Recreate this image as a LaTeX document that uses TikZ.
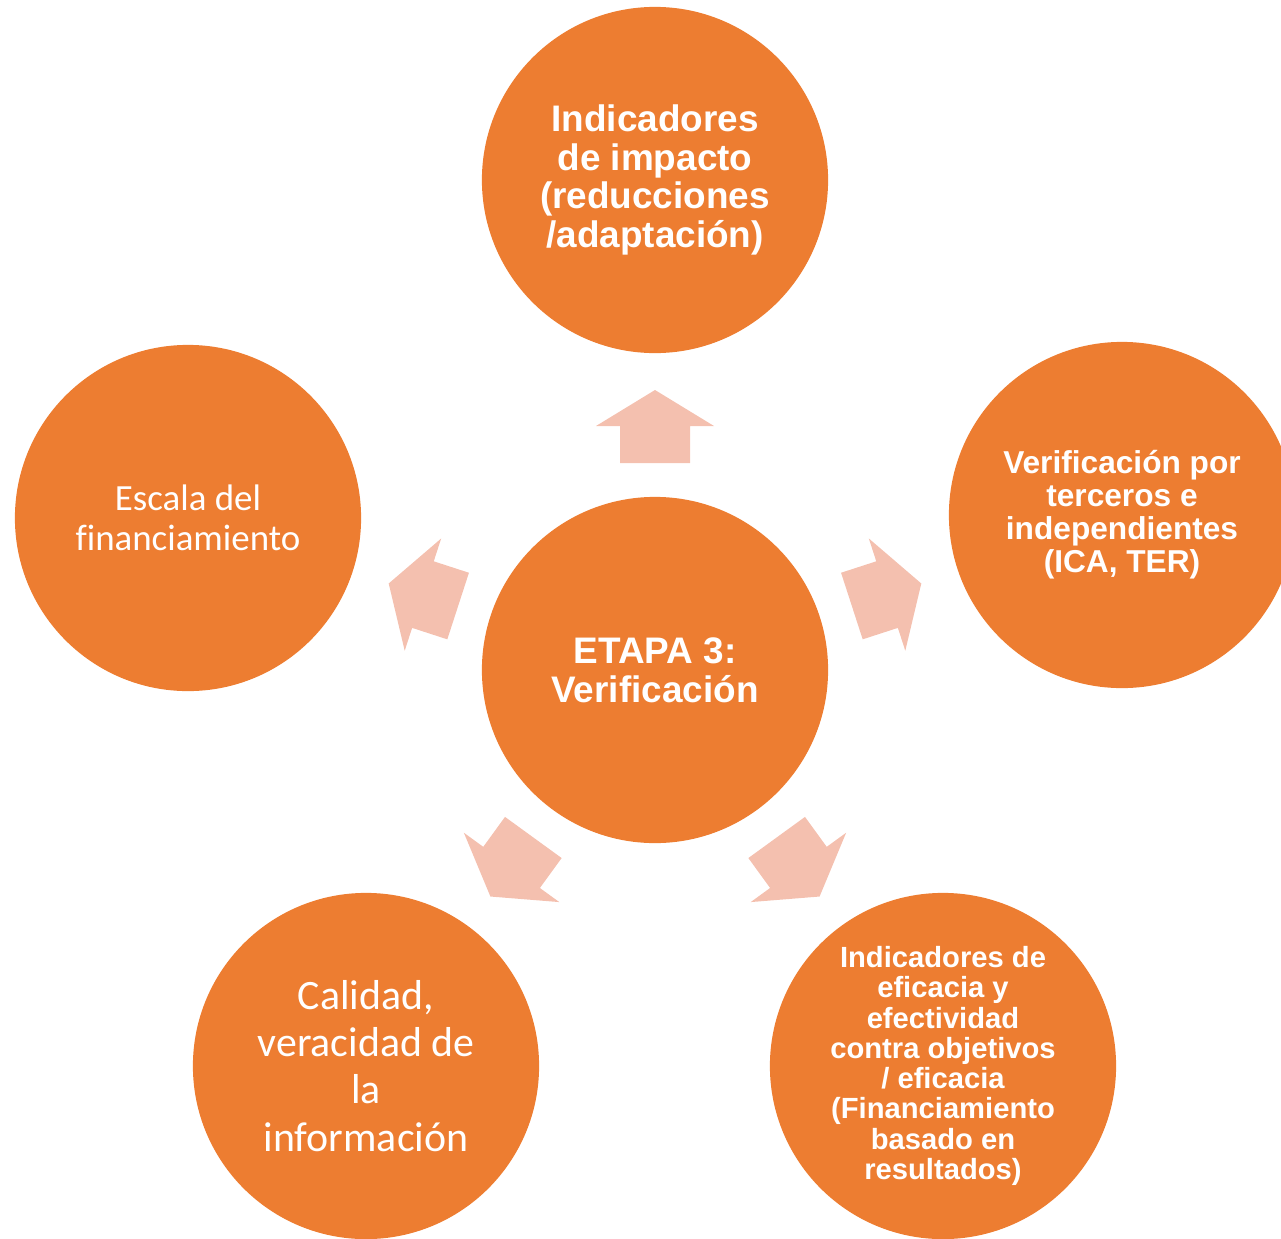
\documentclass[tikz,border=0pt]{standalone}
\usepackage{fontspec}
\setmainfont{Liberation Sans}
\newfontfamily\calibri[Ligatures=NoCommon]{Carlito}
\usepackage{tikz}
\definecolor{naranja}{RGB}{237,125,49}
\definecolor{salmon}{RGB}{244,192,175}
\tikzstyle{circulo} = [circle,minimum size=3.46cm,inner sep=0pt,fill=naranja,text=white,align=center]
\tikzstyle{flecha} = [fill=salmon,draw=none]

\begin{document}
\begin{tikzpicture}[x=0.01cm,y=-0.01cm]
\useasboundingbox (0,0) rectangle (1281,1239);
\clip (0,0) rectangle (1281,1239);

\node (centro)    [circulo,font=\bfseries\fontsize{10.5}{11}\selectfont] at (655,670) {ETAPA 3:\\Verificación};
\node (impacto)   [circulo,font=\bfseries\fontsize{10.5}{11}\selectfont] at (655,180) {Indicadores\\de impacto\\(reducciones\\/adaptación)};
\node (terceros)  [circulo,font=\bfseries\fontsize{9}{9.4}\selectfont] at (1122,515) {Verificación por\\terceros e\\independientes\\(ICA, TER)};
\node (eficacia)  [circulo,font=\bfseries\fontsize{8.3}{8.6}\selectfont] at (943,1066) {Indicadores de\\eficacia y\\efectividad\\contra objetivos\\/ eficacia\\(Financiamiento\\basado en\\resultados)};
\node (calidad)   [circulo,font=\calibri\fontsize{11.9}{13.4}\selectfont] at (366,1066) {Calidad,\\veracidad de\\la\\información};
\node (escala)    [circulo,font=\calibri\fontsize{10.5}{11.4}\selectfont] at (188,518) {Escala del\\financiamiento};

% flechas desde el centro
\fill[flecha,shift={(centro.center)},rotate=0]    (0,-280) -- (59,-244) -- (35,-244) -- (35,-207) -- (-35,-207) -- (-35,-244) -- (-59,-244) -- cycle;
\fill[flecha,shift={(centro.center)},rotate=-72]  (0,-280) -- (59,-244) -- (35,-244) -- (35,-207) -- (-35,-207) -- (-35,-244) -- (-59,-244) -- cycle;
\fill[flecha,shift={(centro.center)},rotate=-144] (0,-280) -- (59,-244) -- (35,-244) -- (35,-207) -- (-35,-207) -- (-35,-244) -- (-59,-244) -- cycle;
\fill[flecha,shift={(centro.center)},rotate=144]  (0,-280) -- (59,-244) -- (35,-244) -- (35,-207) -- (-35,-207) -- (-35,-244) -- (-59,-244) -- cycle;
\fill[flecha,shift={(centro.center)},rotate=72]   (0,-280) -- (59,-244) -- (35,-244) -- (35,-207) -- (-35,-207) -- (-35,-244) -- (-59,-244) -- cycle;

\end{tikzpicture}
\end{document}
